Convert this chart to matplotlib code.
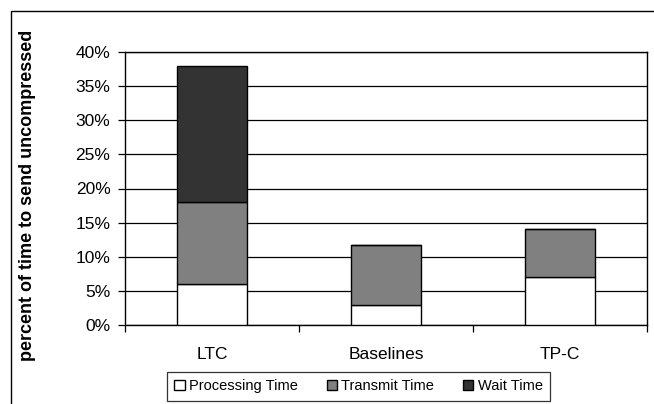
import numpy as np
import matplotlib
matplotlib.use("Agg")
import matplotlib.pyplot as plt
from matplotlib.patches import Rectangle
from matplotlib.ticker import FuncFormatter

plt.rcParams["font.family"] = ["Liberation Sans", "DejaVu Sans"]

categories = ["LTC", "Baselines", "TP-C"]
processing = [0.06, 0.03, 0.07]
transmit = [0.12, 0.087, 0.07]
wait = [0.199, 0.0, 0.0]
series_names = ["Processing Time", "Transmit Time", "Wait Time"]
series_colors = ["#FFFFFF", "#808080", "#333333"]
y_ticks = [0.0, 0.05, 0.10, 0.15, 0.20, 0.25, 0.30, 0.35, 0.40]

W, H = 654, 404
fig = plt.figure(figsize=(W / 100, H / 100), dpi=100)
ax = fig.add_axes([125 / W, 1 - 325 / H, 522 / W, 273 / H])

x = np.arange(len(categories))
bottom = np.zeros(len(categories))
for vals, name, col in zip([processing, transmit, wait], series_names, series_colors):
	ax.bar(x, vals, width=0.4, bottom=bottom, color=col, edgecolor="black",
		linewidth=1.0, label=name, zorder=3)
	bottom = bottom + np.array(vals)

# Axes styling
ax.set_xlim(-0.5, len(categories) - 0.5)
ax.set_ylim(0, 0.40)
ax.set_yticks(y_ticks)
ax.yaxis.set_major_formatter(FuncFormatter(lambda v, p: f"{v * 100:.0f}%"))
ax.grid(True, axis="y", color="black", linewidth=0.9, zorder=0)
ax.set_axisbelow(True)
ax.tick_params(axis="y", length=5, width=0.9, pad=5.5, labelsize=12.5, direction="out")
ax.set_xticks(x)
ax.set_xticklabels(categories)
ax.tick_params(axis="x", which="major", length=0, pad=16, labelsize=12.5)
ax.set_xticks(np.arange(-0.5, len(categories)), minor=True)
ax.tick_params(axis="x", which="minor", length=5, width=0.9, direction="out")
for sp in ax.spines.values():
	sp.set_color("black")
	sp.set_linewidth(1.0)

fig.text(28 / W, 1 - 195 / H, "percent of time to send uncompressed", rotation=90,
	ha="center", va="center", fontsize=13, fontweight="bold")

# Legend below plot
leg = fig.legend(loc="upper left", ncol=3, mode="expand",
	bbox_to_anchor=(167 / W, 0, 383 / W, 1 - 372 / H), bbox_transform=fig.transFigure,
	fontsize=10.5, frameon=True, fancybox=False, handlelength=0.7, handleheight=0.7,
	handletextpad=0.3, borderpad=0.5, borderaxespad=0)
leg.get_frame().set_edgecolor("black")
leg.get_frame().set_linewidth(0.9)

# Outer chart border
fig.add_artist(Rectangle((11 / W, -0.1), 1.0, 1 - 11 / H + 0.1, transform=fig.transFigure,
	fill=False, edgecolor="black", linewidth=1.0, clip_on=False))

fig.savefig("out.png", dpi=100)
